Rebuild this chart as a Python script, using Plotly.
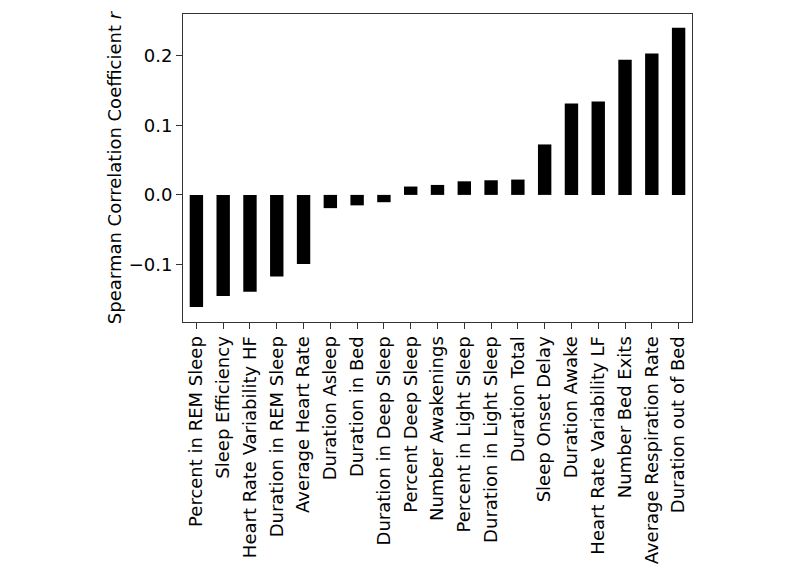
import plotly.graph_objects as go

categories = [
    "Percent in REM Sleep", "Sleep Efficiency", "Heart Rate Variability HF",
    "Duration in REM Sleep", "Average Heart Rate", "Duration Asleep",
    "Duration in Bed", "Duration in Deep Sleep", "Percent Deep Sleep",
    "Number Awakenings", "Percent in Light Sleep", "Duration in Light Sleep",
    "Duration Total", "Sleep Onset Delay", "Duration Awake",
    "Heart Rate Variability LF", "Number Bed Exits", "Average Respiration Rate",
    "Duration out of Bed",
]
r_values = [
    -0.161, -0.145, -0.139, -0.117, -0.099, -0.019, -0.015, -0.0105,
    0.012, 0.0143, 0.0195, 0.021, 0.022, 0.0724, 0.131, 0.134, 0.194,
    0.203, 0.240,
]
y_tick_vals = [-0.1, 0.0, 0.1, 0.2]
y_tick_text = ["\u22120.1", "0.0", "0.1", "0.2"]

fig = go.Figure(
    go.Bar(x=categories, y=r_values, marker=dict(color="black", line=dict(width=0)), width=0.5)
)

font = dict(family="DejaVu Sans", size=18, color="black")
# page body has an 8px default margin; sizes compensate for it
fig.update_layout(
    width=792, height=561,
    margin=dict(l=175, r=108, t=5, b=246),
    paper_bgcolor="white", plot_bgcolor="white",
    font=font, showlegend=False,
)
fig.update_xaxes(
    range=[-0.5, len(categories) - 0.5],
    tickangle=-90, ticks="outside", ticklen=6, tickcolor="#333",
    showline=True, linecolor="#333", linewidth=1, mirror=True,
    showgrid=False, tickfont=font,
)
fig.update_yaxes(
    range=[-0.1824, 0.2596],
    tickvals=y_tick_vals, ticktext=y_tick_text,
    ticks="outside", ticklen=6, tickcolor="#333",
    showline=True, linecolor="#333", linewidth=1, mirror=True,
    showgrid=False, zeroline=False, tickfont=font,
    title=dict(text="Spearman Correlation Coefficient <i>r</i>", font=font, standoff=2),
)

fig.write_html("out.html")
